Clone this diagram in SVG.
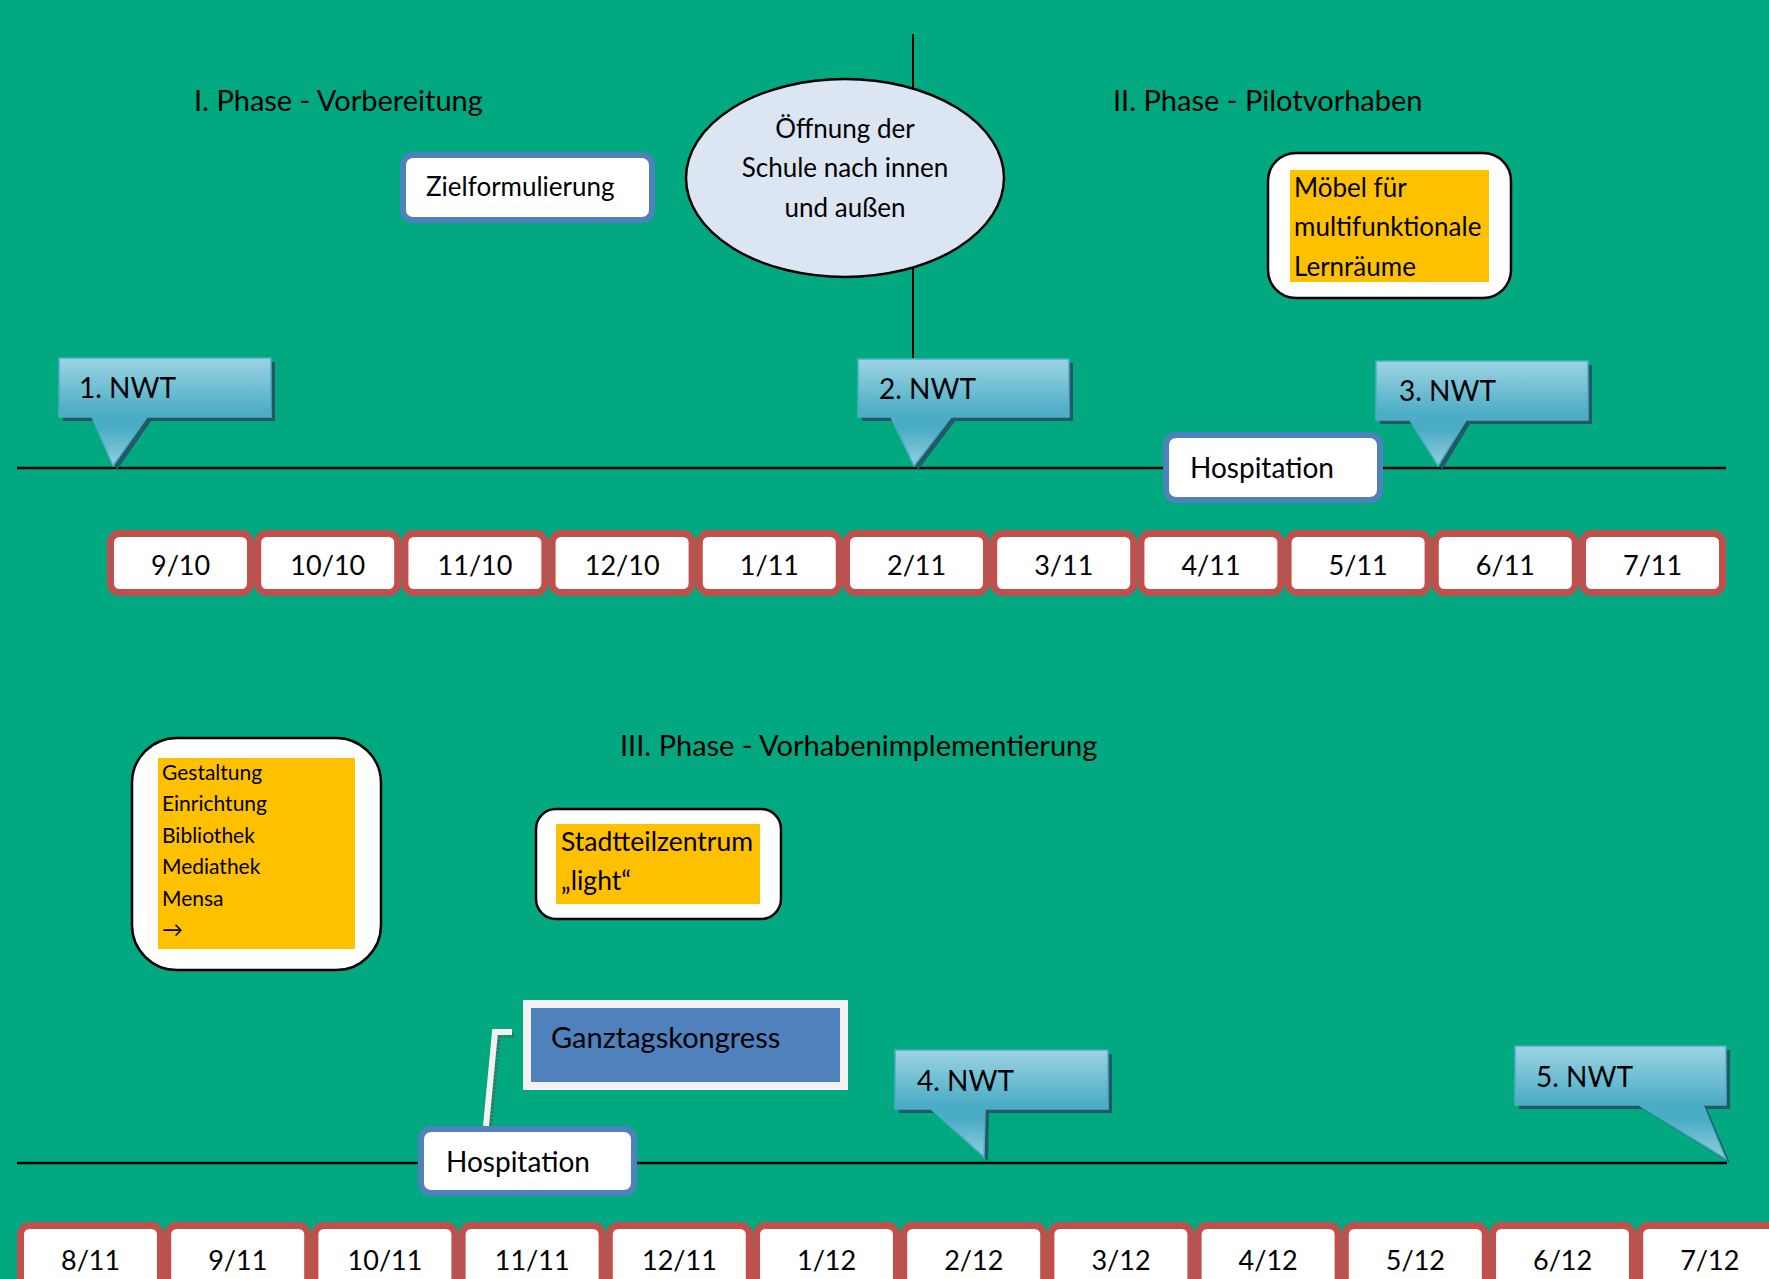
<svg xmlns="http://www.w3.org/2000/svg" width="1769" height="1279" viewBox="0 0 1769 1279">
<defs>
<style>
text{font-family:Lato,"Open Sans","Liberation Sans",sans-serif;fill:#000}
.ph{font-size:29px}
.nwt{font-size:28px}
.mon{font-size:27px;text-anchor:middle}
.monbox{fill:#fff;stroke:#C0504D;stroke-width:7}
.hosp{fill:#fff;stroke:#4F81BD;stroke-width:6}
.call{fill:url(#cg);stroke:#4BACC6;stroke-width:1.5}
.callsh{fill:#215968}
.tl{stroke:#000;stroke-width:2.5}
.note{fill:#fff;stroke:#000;stroke-width:2.5}
.org{fill:#FFC000}
</style>
<linearGradient id="cg" x1="0" y1="0" x2="0" y2="1">
<stop offset="0" stop-color="#9DD4E3"/>
<stop offset="0.5" stop-color="#4DADC6"/>
<stop offset="0.65" stop-color="#4BACC6"/>
<stop offset="1" stop-color="#93CFDE"/>
</linearGradient>
</defs>
<rect x="0" y="0" width="1769" height="1279" fill="#02A880"/>

<g id="timelines">
<line class="tl" x1="17" y1="468" x2="1726" y2="468"/>
<line class="tl" x1="17" y1="1163" x2="1727" y2="1163"/>
<line stroke="#000" stroke-width="2" x1="913" y1="34" x2="913" y2="358"/>
</g>

<g id="headings">
<text class="ph" x="194" y="111">I. Phase - Vorbereitung</text>
<text class="ph" x="1113" y="111">II. Phase - Pilotvorhaben</text>
<text class="ph" x="620" y="756">III. Phase - Vorhabenimplementierung</text>
</g>

<g id="connectors">
<polyline points="486,1126 495,1032 512,1032" fill="none" stroke="#3a6f5c" stroke-width="6" stroke-dasharray="2 2" transform="translate(3,3)"/>
<polyline points="486,1126 495,1032 512,1032" fill="none" stroke="#F2F2F2" stroke-width="6"/>
</g>

<g id="ziel">
<rect class="hosp" x="403" y="155" width="249" height="65" rx="10"/>
<text x="426" y="196" font-size="26">Zielformulierung</text>
</g>

<g id="oeffnung">
<ellipse cx="845" cy="178" rx="159" ry="99" fill="#DCE6F2" stroke="#000" stroke-width="2.5"/>
<text x="845" y="138" font-size="26" text-anchor="middle">Öffnung der</text>
<text x="845" y="177" font-size="26" text-anchor="middle">Schule nach innen</text>
<text x="845" y="217" font-size="26" text-anchor="middle">und außen</text>
</g>

<g id="moebel">
<rect class="note" x="1268" y="153" width="243" height="145" rx="28"/>
<rect class="org" x="1290" y="170" width="199" height="112"/>
<text x="1294" y="197" font-size="26">Möbel für</text>
<text x="1294" y="236" font-size="26">multifunktionale</text>
<text x="1294" y="276" font-size="26">Lernräume</text>
</g>

<g id="nwt1">
<path class="callsh" transform="translate(4,4)" d="M59,358 H271 V417 H147 L113,466 L92,417 H59 Z"/>
<path class="call" d="M59,358 H271 V417 H147 L113,466 L92,417 H59 Z"/>
<text class="nwt" x="79" y="398">1. NWT</text>
</g>
<g id="nwt2">
<path class="callsh" transform="translate(4,4)" d="M858,359 H1069 V417 H951 L914,466 L891,417 H858 Z"/>
<path class="call" d="M858,359 H1069 V417 H951 L914,466 L891,417 H858 Z"/>
<text class="nwt" x="879" y="399">2. NWT</text>
</g>
<g id="nwt3">
<path class="callsh" transform="translate(4,4)" d="M1376,361 H1588 V420 H1466 L1438,466 L1410,420 H1376 Z"/>
<path class="call" d="M1376,361 H1588 V420 H1466 L1438,466 L1410,420 H1376 Z"/>
<text class="nwt" x="1399" y="401">3. NWT</text>
</g>

<g id="hosp1">
<rect class="hosp" x="1166" y="435" width="214" height="65" rx="10"/>
<text x="1190" y="478" font-size="28">Hospitation</text>
</g>

<g id="months1">
<rect class="monbox" x="110.5" y="533.5" width="140" height="59" rx="9"/>
<rect class="monbox" x="257.7" y="533.5" width="140" height="59" rx="9"/>
<rect class="monbox" x="404.9" y="533.5" width="140" height="59" rx="9"/>
<rect class="monbox" x="552.1" y="533.5" width="140" height="59" rx="9"/>
<rect class="monbox" x="699.3" y="533.5" width="140" height="59" rx="9"/>
<rect class="monbox" x="846.5" y="533.5" width="140" height="59" rx="9"/>
<rect class="monbox" x="993.7" y="533.5" width="140" height="59" rx="9"/>
<rect class="monbox" x="1140.9" y="533.5" width="140" height="59" rx="9"/>
<rect class="monbox" x="1288.1" y="533.5" width="140" height="59" rx="9"/>
<rect class="monbox" x="1435.3" y="533.5" width="140" height="59" rx="9"/>
<rect class="monbox" x="1582.5" y="533.5" width="140" height="59" rx="9"/>
<text class="mon" x="180.6" y="575">9/10</text>
<text class="mon" x="327.8" y="575">10/10</text>
<text class="mon" x="475" y="575">11/10</text>
<text class="mon" x="622.2" y="575">12/10</text>
<text class="mon" x="769.4" y="575">1/11</text>
<text class="mon" x="916.6" y="575">2/11</text>
<text class="mon" x="1063.8" y="575">3/11</text>
<text class="mon" x="1211" y="575">4/11</text>
<text class="mon" x="1358.2" y="575">5/11</text>
<text class="mon" x="1505.4" y="575">6/11</text>
<text class="mon" x="1652.6" y="575">7/11</text>
</g>

<g id="gestaltung">
<rect class="note" x="132" y="738" width="249" height="232" rx="45"/>
<rect class="org" x="158" y="758" width="197" height="191"/>
<text x="162" y="780" font-size="21">Gestaltung</text>
<text x="162" y="811" font-size="21">Einrichtung</text>
<text x="162" y="843" font-size="21">Bibliothek</text>
<text x="162" y="874" font-size="21">Mediathek</text>
<text x="162" y="906" font-size="21">Mensa</text>
<text x="162" y="937" font-size="21">→</text>
</g>

<g id="stadtteil">
<rect class="note" x="536" y="809" width="245" height="110" rx="20"/>
<rect class="org" x="556" y="824" width="204" height="80"/>
<text x="561" y="851" font-size="26.5">Stadtteilzentrum</text>
<text x="561" y="890" font-size="26.5">„light“</text>
</g>

<g id="ganztag">
<rect x="530" y="1007" width="317" height="82" fill="none" stroke="#3a6f5c" stroke-width="2" stroke-dasharray="2 2"/>
<rect x="527" y="1004" width="317" height="82" fill="#4F81BD" stroke="#F2F2F2" stroke-width="8"/>
<text x="551" y="1048" font-size="29">Ganztagskongress</text>
</g>

<g id="nwt4">
<path class="callsh" transform="translate(4,4)" d="M895,1050 H1108 V1109 H985 L984,1157 L931,1109 H895 Z"/>
<path class="call" d="M895,1050 H1108 V1109 H985 L984,1157 L931,1109 H895 Z"/>
<text class="nwt" x="917" y="1091">4. NWT</text>
</g>
<g id="nwt5">
<path class="callsh" transform="translate(4,4)" d="M1515,1046 H1726 V1105 H1703 L1726,1159 L1639,1105 H1515 Z"/>
<path class="call" d="M1515,1046 H1726 V1105 H1703 L1726,1159 L1639,1105 H1515 Z"/>
<text class="nwt" x="1536" y="1087">5. NWT</text>
</g>

<g id="hosp2">
<rect class="hosp" x="421" y="1129" width="213" height="64" rx="10"/>
<text x="446" y="1172" font-size="28">Hospitation</text>
</g>

<g id="months2">
<rect class="monbox" x="20.5" y="1225.5" width="140" height="80" rx="9"/>
<rect class="monbox" x="167.7" y="1225.5" width="140" height="80" rx="9"/>
<rect class="monbox" x="314.9" y="1225.5" width="140" height="80" rx="9"/>
<rect class="monbox" x="462.1" y="1225.5" width="140" height="80" rx="9"/>
<rect class="monbox" x="609.3" y="1225.5" width="140" height="80" rx="9"/>
<rect class="monbox" x="756.5" y="1225.5" width="140" height="80" rx="9"/>
<rect class="monbox" x="903.7" y="1225.5" width="140" height="80" rx="9"/>
<rect class="monbox" x="1050.9" y="1225.5" width="140" height="80" rx="9"/>
<rect class="monbox" x="1198.1" y="1225.5" width="140" height="80" rx="9"/>
<rect class="monbox" x="1345.3" y="1225.5" width="140" height="80" rx="9"/>
<rect class="monbox" x="1492.5" y="1225.5" width="140" height="80" rx="9"/>
<rect class="monbox" x="1639.7" y="1225.5" width="140" height="80" rx="9"/>
<text class="mon" x="90.6" y="1270">8/11</text>
<text class="mon" x="237.8" y="1270">9/11</text>
<text class="mon" x="385" y="1270">10/11</text>
<text class="mon" x="532.2" y="1270">11/11</text>
<text class="mon" x="679.4" y="1270">12/11</text>
<text class="mon" x="826.6" y="1270">1/12</text>
<text class="mon" x="973.8" y="1270">2/12</text>
<text class="mon" x="1121" y="1270">3/12</text>
<text class="mon" x="1268.2" y="1270">4/12</text>
<text class="mon" x="1415.4" y="1270">5/12</text>
<text class="mon" x="1562.6" y="1270">6/12</text>
<text class="mon" x="1709.8" y="1270">7/12</text>
</g>
</svg>
